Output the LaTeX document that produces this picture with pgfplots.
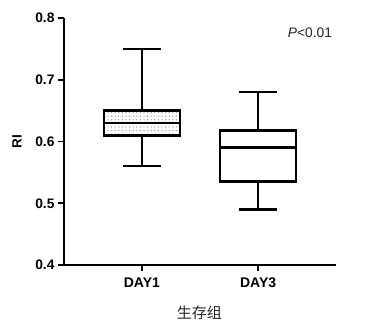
\documentclass[border=0pt]{standalone}
\usepackage{fontspec}
\setmainfont{Liberation Sans}
\newfontfamily\cjk{Noto Sans CJK SC}
\usepackage{pgfplots}
\pgfplotsset{compat=1.18}
\usepgfplotslibrary{statistics}
\usetikzlibrary{patterns.meta}
\begin{document}
\begin{tikzpicture}
\useasboundingbox (-64pt,-60pt) rectangle (301pt,265pt);
\begin{axis}[
  at={(0,0)}, anchor=south west,
  scale only axis, width=272pt, height=247pt,
  xmin=0.33, xmax=2.67, ymin=0.4, ymax=0.8,
  axis x line=bottom, axis y line=left,
  x axis line style={-, line width=1.8pt},
  y axis line style={-, line width=1.8pt},
  every tick/.style={black, line width=1.8pt},
  tick align=outside, major tick length=6pt,
  xtick={1,2}, xticklabels={DAY1,DAY3},
  ytick={0.4,0.5,0.6,0.7,0.8},
  yticklabel style={/pgf/number format/assume math mode=true,
    /pgf/number format/fixed, /pgf/number format/fixed zerofill,
    /pgf/number format/precision=1, font=\bfseries\fontsize{13.8}{14}\selectfont},
  xticklabel style={yshift=-3pt, font=\bfseries\fontsize{14}{14}\selectfont},
  ylabel={\bfseries RI},
  ylabel style={font=\fontsize{13.5}{13.5}\selectfont, at={(axis description cs:-0.173,0.5)}, anchor=center},
  xlabel={\cjk 生存组},
  xlabel style={font=\fontsize{15}{15}\selectfont, at={(axis description cs:0.498,-0.194)}, anchor=center, text=black!85},
  clip=false,
  boxplot/draw direction=y,
  boxplot/every box/.style={draw=black, line width=2.6pt},
  boxplot/every whisker/.style={black, line width=2.2pt},
  boxplot/every median/.style={black, line width=2.6pt},
]
\addplot[black, line width=2.2pt,
  boxplot prepared={lower whisker=0.56, lower quartile=0.61, median=0.63, upper quartile=0.65, upper whisker=0.75, draw position=1, box extend=0.655, whisker extend=0.33, draw direction=y,
  every box/.style={draw=black, line width=2.6pt, pattern={Dots[radius=0.7pt, distance=3.6pt]}, pattern color=gray!80}}]
  table[row sep=\\, y index=0] {\\};
\addplot[black, line width=2.2pt,
  boxplot prepared={lower whisker=0.49, lower quartile=0.535, median=0.59, upper quartile=0.618, upper whisker=0.68, draw position=2, box extend=0.655, whisker extend=0.33, draw direction=y}]
  table[row sep=\\, y index=0] {\\};
\node[font=\fontsize{13.8}{14}\selectfont, text=black!85] at (axis cs:2.446,0.776) {\textit{P}<0.01};
\end{axis}
\end{tikzpicture}
\end{document}
